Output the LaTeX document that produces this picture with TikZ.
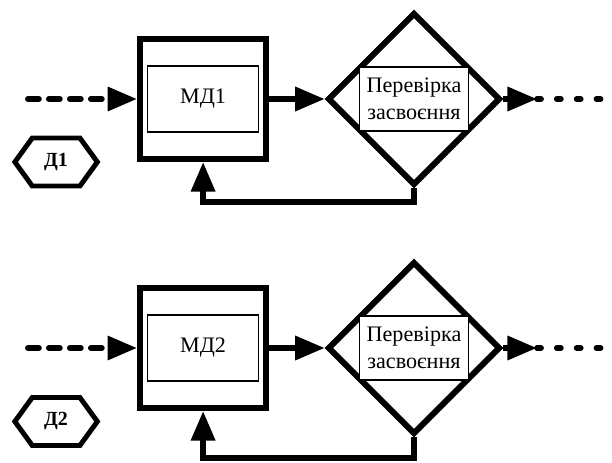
\documentclass[tikz,border=0pt]{standalone}
\usepackage{fontspec}
\setmainfont{Liberation Serif}
\usepackage{tikz}
\usetikzlibrary{arrows.meta,shapes.geometric,shapes.symbols}

\tikzset{
  modbox/.style={draw,line width=5.7pt,minimum width=4.2cm,minimum height=4cm,inner sep=0pt},
  namebox/.style={draw,line width=1.1pt,minimum width=3.7cm,minimum height=2.2cm,inner sep=0pt,
    font=\fontsize{21}{24}\selectfont},
  check/.style={draw,diamond,line width=5.7pt,minimum width=5.75cm,minimum height=5.75cm,inner sep=0pt},
  checktext/.style={draw,fill=white,line width=1.1pt,minimum width=3.63cm,minimum height=2.13cm,
    inner sep=0pt,align=center,font=\fontsize{21}{26}\selectfont},
  docu/.style={draw,signal,signal to=west and east,signal pointer angle=108,line width=4.7pt,
    minimum width=2.75cm,minimum height=1.6cm,inner sep=0pt,font=\fontsize{19}{22}\selectfont\bfseries},
  conn/.style={line width=5.5pt,-{Triangle[length=28pt,width=22pt]}},
  dashin/.style={conn,line cap=round,dash pattern=on 10.4pt off 9.5pt},
  dashout/.style={line width=5.5pt,line cap=round,dash pattern=on 3.8pt off 15pt}
}

\begin{document}
\begin{tikzpicture}
\useasboundingbox (0,0) rectangle (20.4,15.4);

\node[modbox] (md1) at (6.77,12.1) {};
\node[namebox] (name1) at (6.77,12.1) {МД1};
\node[check] (dia1) at (13.8,12.1) {};
\node[checktext] (txt1) at (13.8,12.1) {Перевірка\\засвоєння};
\node[docu] (d1) at (1.87,10.0) {Д1};

\coordinate (in1) at (0.93,12.1);
\coordinate (tip1) at (17.9,12.1);
\coordinate (out1) at (20.5,12.1);
\coordinate (fb1) at (13.8,8.67);

\draw[dashin] (in1) -- (md1.west);
\draw[conn] (md1) -- (dia1);
\draw[conn] (dia1.east) -- (tip1);
\draw[dashout] (tip1) -- (out1);
\draw[conn] (dia1.south) -- (fb1) -| (md1.south);

%-------------------------------------
\node[modbox] (md2) at (6.77,3.8) {};
\node[namebox] (name2) at (6.77,3.8) {МД2};
\node[check] (dia2) at (13.8,3.8) {};
\node[checktext] (txt2) at (13.8,3.8) {Перевірка\\засвоєння};
\node[docu] (d2) at (1.87,1.35) {Д2};

\coordinate (in2) at (0.93,3.8);
\coordinate (tip2) at (17.9,3.8);
\coordinate (out2) at (20.5,3.8);
\coordinate (fb2) at (13.8,0.13);

\draw[dashin] (in2) -- (md2.west);
\draw[conn] (md2) -- (dia2);
\draw[conn] (dia2.east) -- (tip2);
\draw[dashout] (tip2) -- (out2);
\draw[conn] (dia2.south) -- (fb2) -| (md2.south);
\end{tikzpicture}
\end{document}
